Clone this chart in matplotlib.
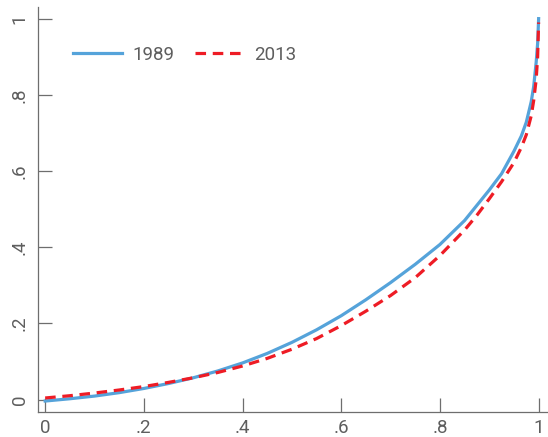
import numpy as np
import matplotlib
matplotlib.use("Agg")
import matplotlib.pyplot as plt

plt.rcParams['font.family'] = ['Roboto', 'DejaVu Sans']

# Courbes de Lorenz : part cumulée de la population / part cumulée du revenu
pop_1989 = [0, 0.05, 0.1, 0.15, 0.2, 0.25, 0.3, 0.35, 0.4, 0.45, 0.5, 0.55, 0.6,
            0.65, 0.7, 0.75, 0.8, 0.85, 0.9, 0.925, 0.95, 0.965, 0.975, 0.985,
            0.99, 0.995, 0.998, 1.0]
lorenz_1989 = [-0.004, 0.002, 0.009, 0.018, 0.029, 0.042, 0.057, 0.075, 0.096, 0.121,
               0.150, 0.183, 0.220, 0.262, 0.307, 0.355, 0.407, 0.470, 0.550, 0.593,
               0.652, 0.692, 0.728, 0.782, 0.822, 0.885, 0.935, 1.0]

pop_2013 = [0, 0.05, 0.1, 0.15, 0.2, 0.25, 0.3, 0.35, 0.4, 0.45, 0.5, 0.55, 0.6,
            0.65, 0.7, 0.75, 0.8, 0.85, 0.875, 0.9, 0.925, 0.95, 0.965, 0.975,
            0.985, 0.99, 0.995, 0.998, 1.0]
lorenz_2013 = [0.004, 0.010, 0.017, 0.025, 0.034, 0.045, 0.057, 0.071, 0.088, 0.108,
               0.132, 0.160, 0.194, 0.232, 0.273, 0.320, 0.378, 0.445, 0.484, 0.527,
               0.572, 0.622, 0.662, 0.695, 0.745, 0.785, 0.840, 0.900, 0.99]

ticks = [0, 0.2, 0.4, 0.6, 0.8, 1.0]
tick_labels = ['0', '.2', '.4', '.6', '.8', '1']

fig = plt.figure(figsize=(5.48, 4.37), dpi=100)
ax = fig.add_axes([0.070, 0.0565, 0.930, 0.9265])

ax.plot(pop_1989, lorenz_1989, color='#55a3da', lw=2.3, label='1989')
ax.plot(pop_2013, lorenz_2013, color='#ee1c25', lw=2.3, ls=(0, (3.3, 2.1)), label='2013')

ax.set_xlim(-0.0138, 1.019)
ax.set_ylim(-0.0336, 1.0294)

grey = '#6e6e6e'
txt = '#5e5e5e'
ax.set_xticks(ticks)
ax.set_xticklabels(tick_labels)
ax.set_yticks(ticks)
ax.set_yticklabels(tick_labels, rotation=90, va='center')
ax.tick_params(direction='in', length=10, width=0.9, color=grey,
               labelcolor=txt, labelsize=13.5)
ax.tick_params(axis='x', pad=5)
ax.tick_params(axis='y', pad=7)

for side in ['top', 'right']:
    ax.spines[side].set_visible(False)
for side in ['left', 'bottom']:
    ax.spines[side].set_color(grey)
    ax.spines[side].set_linewidth(0.9)

leg = ax.legend(loc='center left', bbox_to_anchor=(73 / 548, 1 - 55 / 437),
                bbox_transform=fig.transFigure, ncol=2, frameon=False,
                borderpad=0, borderaxespad=0, fontsize=13.5, handlelength=2.6,
                handletextpad=0.55, columnspacing=1.1)
for t in leg.get_texts():
    t.set_color(txt)

fig.savefig('out.png', dpi=100)
